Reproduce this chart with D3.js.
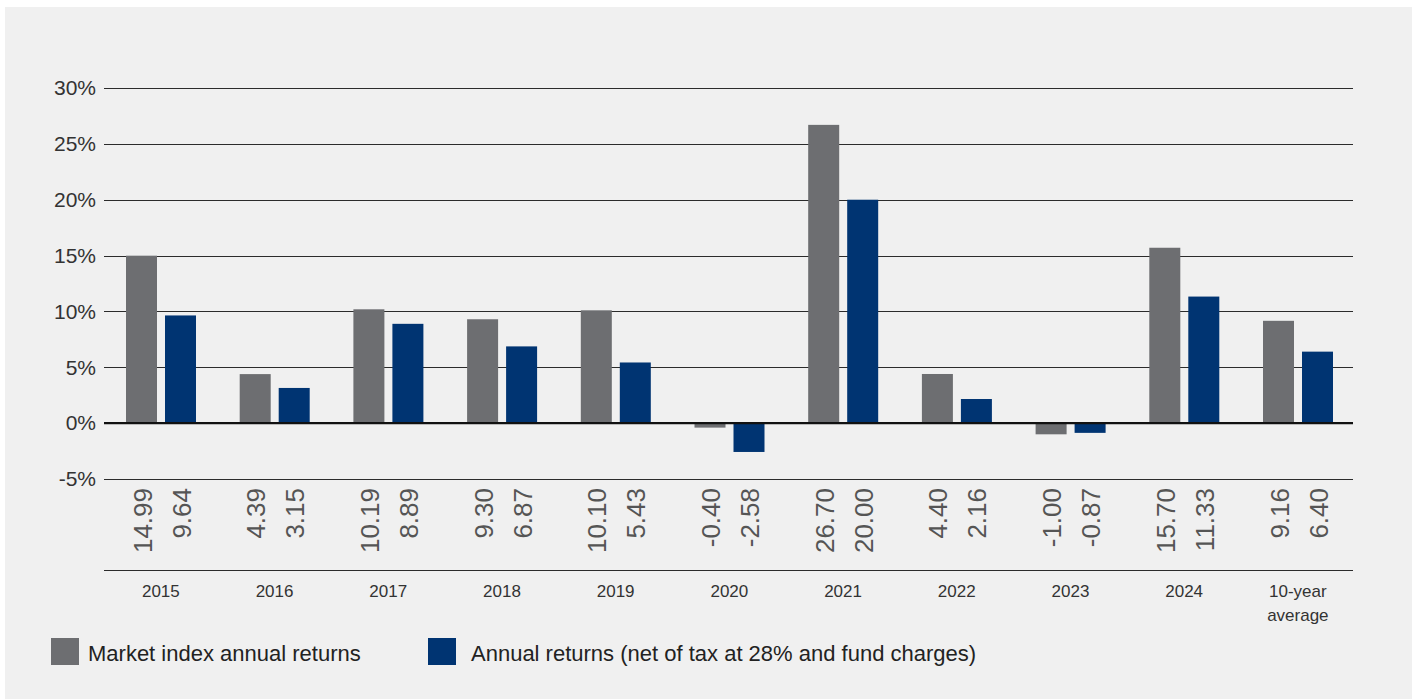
<!DOCTYPE html>
<html>
    <head>
        <meta charset="utf-8">
        <style>
            body {
                margin: 0;
                background: #ffffff;
                font-family: "Liberation Sans", Arial, Helvetica, sans-serif;
            }
            .grid line {
                stroke: #2b2b2b;
                stroke-width: 1;
            }
            .tick-label {
                font-size: 21px;
                fill: #333333;
            }
            .value-label {
                font-size: 26px;
                fill: #555555;
            }
            .cat-label {
                font-size: 17px;
                fill: #333333;
            }
            .legend-text {
                font-size: 22px;
                fill: #222222;
            }
        </style>
    </head>
    <body>
        <script src="https://d3js.org/d3.v7.min.js"></script>

        <script>
            const categories = ['2015', '2016', '2017', '2018', '2019', '2020', '2021', '2022', '2023', '2024', '10-year average'];
            const marketReturns = [14.99, 4.39, 10.19, 9.30, 10.10, -0.40, 26.70, 4.40, -1.00, 15.70, 9.16];
            const fundReturns = [9.64, 3.15, 8.89, 6.87, 5.43, -2.58, 20.00, 2.16, -0.87, 11.33, 6.40];
            const yTicks = [-5, 0, 5, 10, 15, 20, 25, 30];
            const seriesNames = ['Market index annual returns', 'Annual returns (net of tax at 28% and fund charges)'];
            const seriesColors = ['#6d6e71', '#003472'];

            function makeChart() {
                const width = 1417;
                const height = 699;
                const margin = ({top: 88, right: 64, left: 104});

                const svg = d3.select('body').append('svg')
                    .attr('width', width)
                    .attr('height', height);

                // panel background
                svg.append('rect')
                    .attr('x', 5).attr('y', 7)
                    .attr('width', 1407).attr('height', height - 7)
                    .attr('fill', '#f0f0f0');

                const xScale = d3.scaleBand()
                    .domain(categories)
                    .range([margin.left, margin.left + 11 * 113.7]);

                const yScale = d3.scaleLinear()
                    .domain([-5, 30])
                    .range([479, margin.top]);

                // two bars per year, 31px wide with an 8px gap
                const inner = d3.scaleBand()
                    .domain([0, 1])
                    .range([22, 92])
                    .paddingInner(8 / 39);

                // gridlines
                svg.append('g')
                    .attr('class', 'grid')
                    .selectAll('line')
                    .data(yTicks)
                    .join('line')
                    .attr('x1', margin.left)
                    .attr('x2', width - margin.right)
                    .attr('y1', d => Math.round(yScale(d)) + 0.5)
                    .attr('y2', d => Math.round(yScale(d)) + 0.5);

                const yAxis = d3.axisLeft(yScale)
                    .tickValues(yTicks)
                    .tickFormat(d => d + '%')
                    .tickSize(0)
                    .tickPadding(8);

                svg.append('g')
                    .attr('transform', 'translate(' + margin.left + ',0)')
                    .call(yAxis)
                    .call(g => g.select('.domain').remove())
                    .call(g => g.selectAll('text').attr('class', 'tick-label').attr('font-family', null).attr('font-size', null));

                const series = [marketReturns, fundReturns];

                series.forEach((values, i) => {
                    svg.append('g')
                        .selectAll('rect')
                        .data(values)
                        .join('rect')
                        .attr('x', (d, j) => xScale(categories[j]) + inner(i))
                        .attr('width', inner.bandwidth())
                        .attr('y', d => yScale(Math.max(0, d)))
                        .attr('height', d => Math.abs(yScale(d) - yScale(0)))
                        .attr('fill', seriesColors[i]);

                    svg.append('g')
                        .selectAll('text')
                        .data(values)
                        .join('text')
                        .attr('class', 'value-label')
                        .attr('text-anchor', 'end')
                        .attr('transform', (d, j) => {
                            const cx = xScale(categories[j]) + inner(i) + inner.bandwidth() / 2 + 10;
                            return 'translate(' + cx + ',488) rotate(-90)';
                        })
                        .text(d => d.toFixed(2));
                });

                // zero line
                svg.append('line')
                    .attr('x1', margin.left)
                    .attr('x2', width - margin.right)
                    .attr('y1', yScale(0))
                    .attr('y2', yScale(0))
                    .attr('stroke', '#111')
                    .attr('stroke-width', 2.2);

                // table bottom line
                svg.append('line')
                    .attr('x1', margin.left)
                    .attr('x2', width - margin.right)
                    .attr('y1', 570.5)
                    .attr('y2', 570.5)
                    .attr('stroke', '#2b2b2b');

                // category labels
                const cats = svg.append('g')
                    .selectAll('text')
                    .data(categories)
                    .join('text')
                    .attr('class', 'cat-label')
                    .attr('text-anchor', 'middle')
                    .attr('x', d => xScale(d) + xScale.bandwidth() / 2)
                    .attr('y', 597);

                cats.each(function(d) {
                    const parts = d === '10-year average' ? ['10-year', 'average'] : [d];
                    d3.select(this).selectAll('tspan')
                        .data(parts)
                        .join('tspan')
                        .attr('x', xScale(d) + xScale.bandwidth() / 2)
                        .attr('dy', (p, k) => k === 0 ? 0 : 24)
                        .text(p => p);
                });

                // legend
                const legendX = [51, 428];
                const legend = svg.append('g')
                    .selectAll('g')
                    .data(seriesNames)
                    .join('g')
                    .attr('transform', (d, i) => 'translate(' + legendX[i] + ',638)');

                legend.append('rect')
                    .attr('width', 28)
                    .attr('height', 27)
                    .attr('fill', (d, i) => seriesColors[i]);

                legend.append('text')
                    .attr('class', 'legend-text')
                    .attr('x', (d, i) => i === 0 ? 37 : 43)
                    .attr('y', 23)
                    .text(d => d);
            }
            makeChart();
        </script>
    </body>
</html>
